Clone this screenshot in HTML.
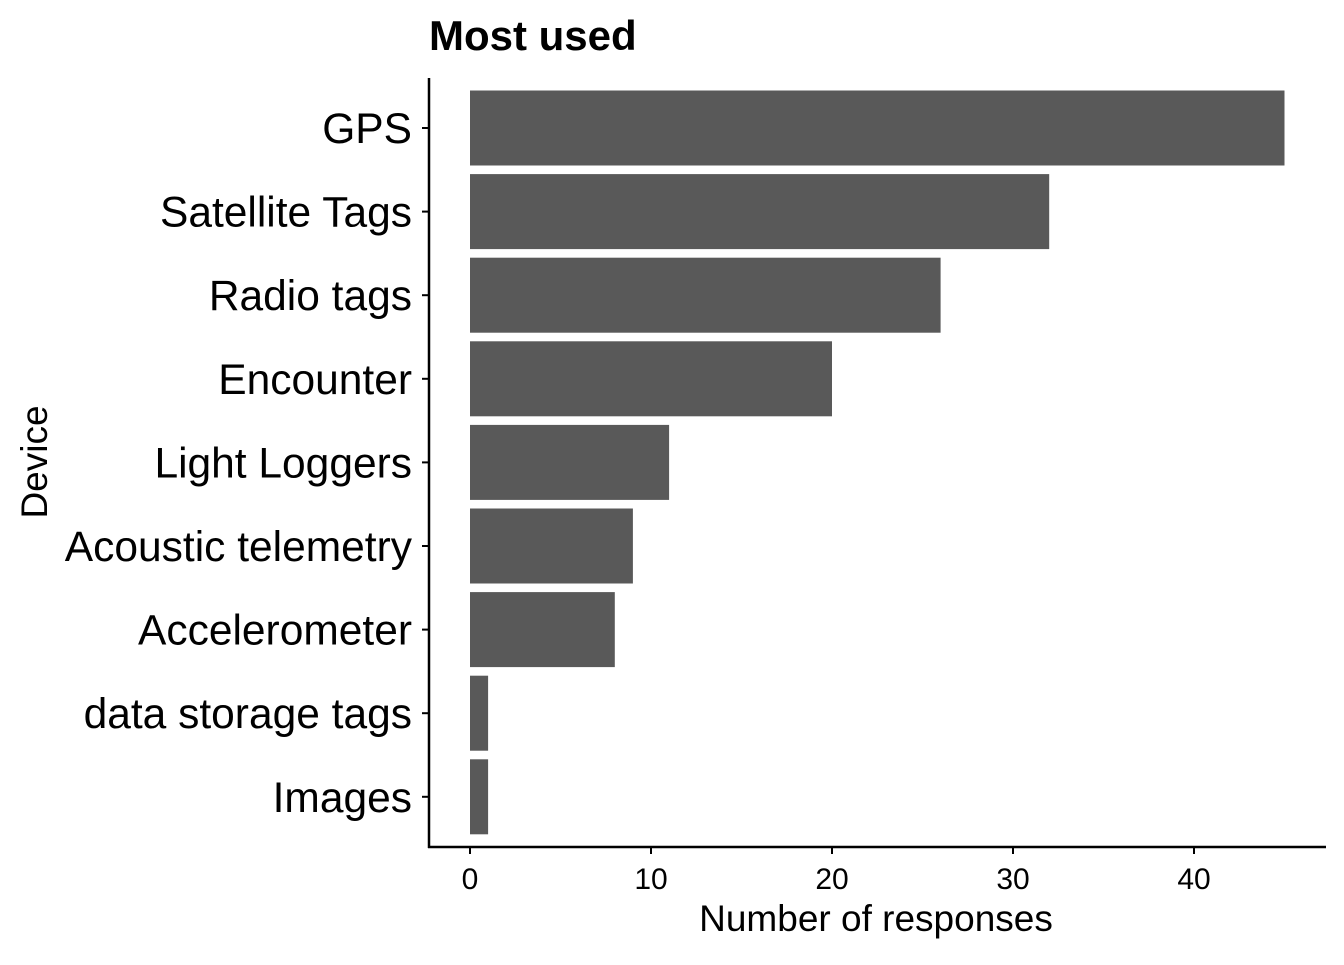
<!DOCTYPE html>
<html><head><meta charset="utf-8"><style>
body{margin:0;background:#fff;}
svg text{font-family:"Liberation Sans",Arial,sans-serif;}
</style></head><body>
<svg id="chart" width="1344" height="960" xmlns="http://www.w3.org/2000/svg">
<rect width="1344" height="960" fill="#fff"/>
<text x="429" y="50" font-size="42" font-weight="bold" fill="#000">Most used</text>
<g id="bars"></g>
<g id="axes"></g>
<text x="876" y="931" font-size="37" text-anchor="middle" fill="#000">Number of responses</text>
<text transform="translate(47,462) rotate(-90)" font-size="37" text-anchor="middle" fill="#000">Device</text>
</svg>
<script>
const categories=["GPS","Satellite Tags","Radio tags","Encounter","Light Loggers","Acoustic telemetry","Accelerometer","data storage tags","Images"];
const values=[45,32,26,20,11,9,8,1,1];
const xTicks=[0,10,20,30,40];
const NS="http://www.w3.org/2000/svg";
const x0=470, pxPer=18.1;
function xs(v){return x0+v*pxPer;}
const yTop=128, step=83.6, bh=75;
function ys(i){return yTop+i*step;}
const bars=document.getElementById('bars'), axes=document.getElementById('axes');
function mk(tag,attrs,parent){const e=document.createElementNS(NS,tag);for(const k in attrs)e.setAttribute(k,attrs[k]);parent.appendChild(e);return e;}
categories.forEach((c,i)=>{
  const r=mk('rect',{x:xs(0),y:ys(i)-bh/2,width:xs(values[i])-xs(0),height:bh,fill:'#595959'},bars);
  
  
  const t=mk('line',{x1:422,x2:429,y1:ys(i),y2:ys(i),stroke:'#000','stroke-width':2},axes);
  
  
  const l=mk('text',{x:412,y:ys(i)+15,'font-size':42.5,'text-anchor':'end',fill:'#000'},axes);
  l.textContent=c;
  
  
});
xTicks.forEach(v=>{
  const t=mk('line',{x1:xs(v),x2:xs(v),y1:847,y2:854,stroke:'#000','stroke-width':2},axes);
  
  
  const l=mk('text',{x:xs(v),y:889,'font-size':30,'text-anchor':'middle',fill:'#000'},axes);
  l.textContent=v;
  
  
});
const ya=mk('line',{x1:429,x2:429,y1:78,y2:848,stroke:'#000','stroke-width':2.5},axes);


const xa=mk('line',{x1:428,x2:1326,y1:847,y2:847,stroke:'#000','stroke-width':2.5},axes);


</script>
</body></html>
